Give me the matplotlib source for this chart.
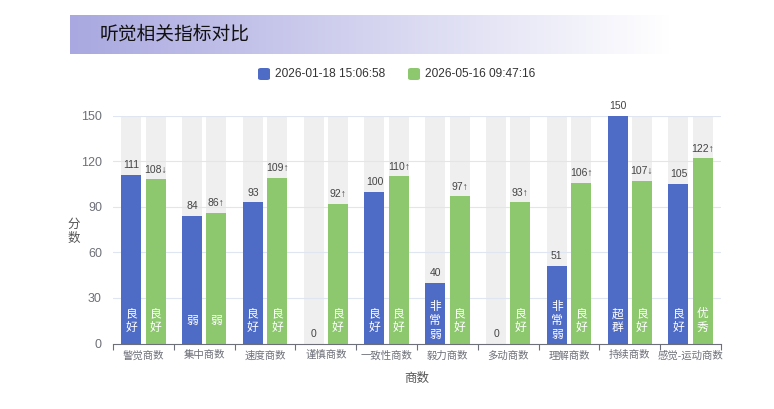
import numpy as np
import matplotlib
matplotlib.use('Agg')
import matplotlib.pyplot as plt
from matplotlib.patches import FancyBboxPatch

plt.rcParams['font.family'] = ['Liberation Sans', 'Noto Sans CJK SC', 'DejaVu Sans']

# data
categories = ['警觉商数', '集中商数', '速度商数', '谨慎商数', '一致性商数',
              '毅力商数', '多动商数', '理解商数', '持续商数', '感觉-运动商数']
series_names = ['2026-01-18 15:06:58', '2026-05-16 09:47:16']
first_vals = [111, 84, 93, 0, 100, 40, 0, 51, 150, 105]
second_vals = [108, 86, 109, 92, 110, 97, 93, 106, 107, 122]
first_levels = ['良好', '弱', '良好', '', '良好', '非常弱', '', '非常弱', '超群', '良好']
second_levels = ['良好', '弱', '良好', '良好', '良好', '良好', '良好', '良好', '良好', '优秀']
second_trend = ['↓', '↑', '↑', '↑', '↑', '↑', '↑', '↑', '↓', '↑']
y_max = 150
y_ticks = [0, 30, 60, 90, 120, 150]

blue = '#4e6bc6'
green = '#8dc86f'
bg_col = '#efefef'
axis_col = '#6e7079'

fig = plt.figure(figsize=(7.74, 4.09), dpi=100)

# title band with gradient
band = fig.add_axes([70 / 774, 1 - 54.5 / 409, 600 / 774, 40 / 409])
grad = np.linspace(0, 1, 256)
c0 = np.array([169, 168, 224]) / 255.0
c1 = np.array([255, 255, 255]) / 255.0
img = c0[None, :] + (c1 - c0)[None, :] * grad[:, None]
band.imshow(img[None, :, :], aspect='auto', extent=[0, 1, 0, 1])
band.set_axis_off()
fig.text(100 / 774, 1 - 34.5 / 409, '听觉相关指标对比', fontsize=13.5,
         color='#111111', va='center', ha='left', family='Noto Sans CJK SC')

# legend
leg_y = 1 - 74 / 409
for i, (name, col, x0) in enumerate(zip(series_names, [blue, green], [258, 408])):
    fig.patches.append(FancyBboxPatch((x0 / 774, leg_y - 6 / 409), 12 / 774, 12 / 409,
                                      boxstyle='round,pad=0,rounding_size=0.004',
                                      transform=fig.transFigure, facecolor=col,
                                      edgecolor='none'))
    fig.text((x0 + 17) / 774, leg_y, name, fontsize=8.6, color='#333333',
             va='center', ha='left')

ax = fig.add_axes([113 / 774, 1 - 343.5 / 409, 608 / 774, 227.8 / 409])
x = np.arange(len(categories))
w = 0.33
off = 0.2

ax.bar(x - off, [y_max] * len(x), w, color=bg_col, zorder=1)
ax.bar(x + off, [y_max] * len(x), w, color=bg_col, zorder=1)
for t in y_ticks[1:]:
    ax.axhline(t, color='#e0e6f1', lw=0.8, zorder=2)
b1 = ax.bar(x - off, first_vals, w, color=blue, zorder=3)
b2 = ax.bar(x + off, second_vals, w, color=green, zorder=3)

for i in range(len(x)):
    ax.text(x[i] - off, first_vals[i] + 3, str(first_vals[i]), ha='center',
            va='bottom', fontsize=7.5, color='#444444', zorder=4)
    ax.text(x[i] + off, second_vals[i] + 3, str(second_vals[i]) + second_trend[i],
            ha='center', va='bottom', fontsize=7.5, color='#444444', zorder=4)
    if first_levels[i]:
        ax.text(x[i] - off, 15, '\n'.join(first_levels[i]), ha='center', va='center',
                fontsize=8.5, color='white', linespacing=1.1, zorder=4,
                family='Noto Sans CJK SC')
    if second_levels[i]:
        ax.text(x[i] + off, 15, '\n'.join(second_levels[i]), ha='center', va='center',
                fontsize=8.5, color='white', linespacing=1.1, zorder=4,
                family='Noto Sans CJK SC')

ax.set_xlim(-0.5, len(x) - 0.5)
ax.set_ylim(0, y_max)
ax.set_yticks(y_ticks)
ax.tick_params(axis='y', length=0, labelsize=9, labelcolor=axis_col, pad=8)
ax.set_xticks(np.arange(len(x) + 1) - 0.5)
ax.set_xticklabels([])
ax.set_xticks(x, minor=True)
ax.set_xticklabels(categories, minor=True)
ax.tick_params(axis='x', which='major', length=4, color=axis_col, direction='out')
ax.tick_params(axis='x', which='minor', length=0, labelsize=7.5, labelcolor=axis_col, pad=5)
for s in ['top', 'right', 'left']:
    ax.spines[s].set_visible(False)
ax.spines['bottom'].set_color(axis_col)
ax.spines['bottom'].set_zorder(5)

fig.text(74 / 774, 1 - 231 / 409, '分\n数', fontsize=9, color='#555555',
         ha='center', va='center', linespacing=1.1, family='Noto Sans CJK SC')
fig.text(417 / 774, 1 - 378 / 409, '商数', fontsize=9, color='#555555',
         ha='center', va='center', family='Noto Sans CJK SC')

fig.savefig('out.png', dpi=100)
